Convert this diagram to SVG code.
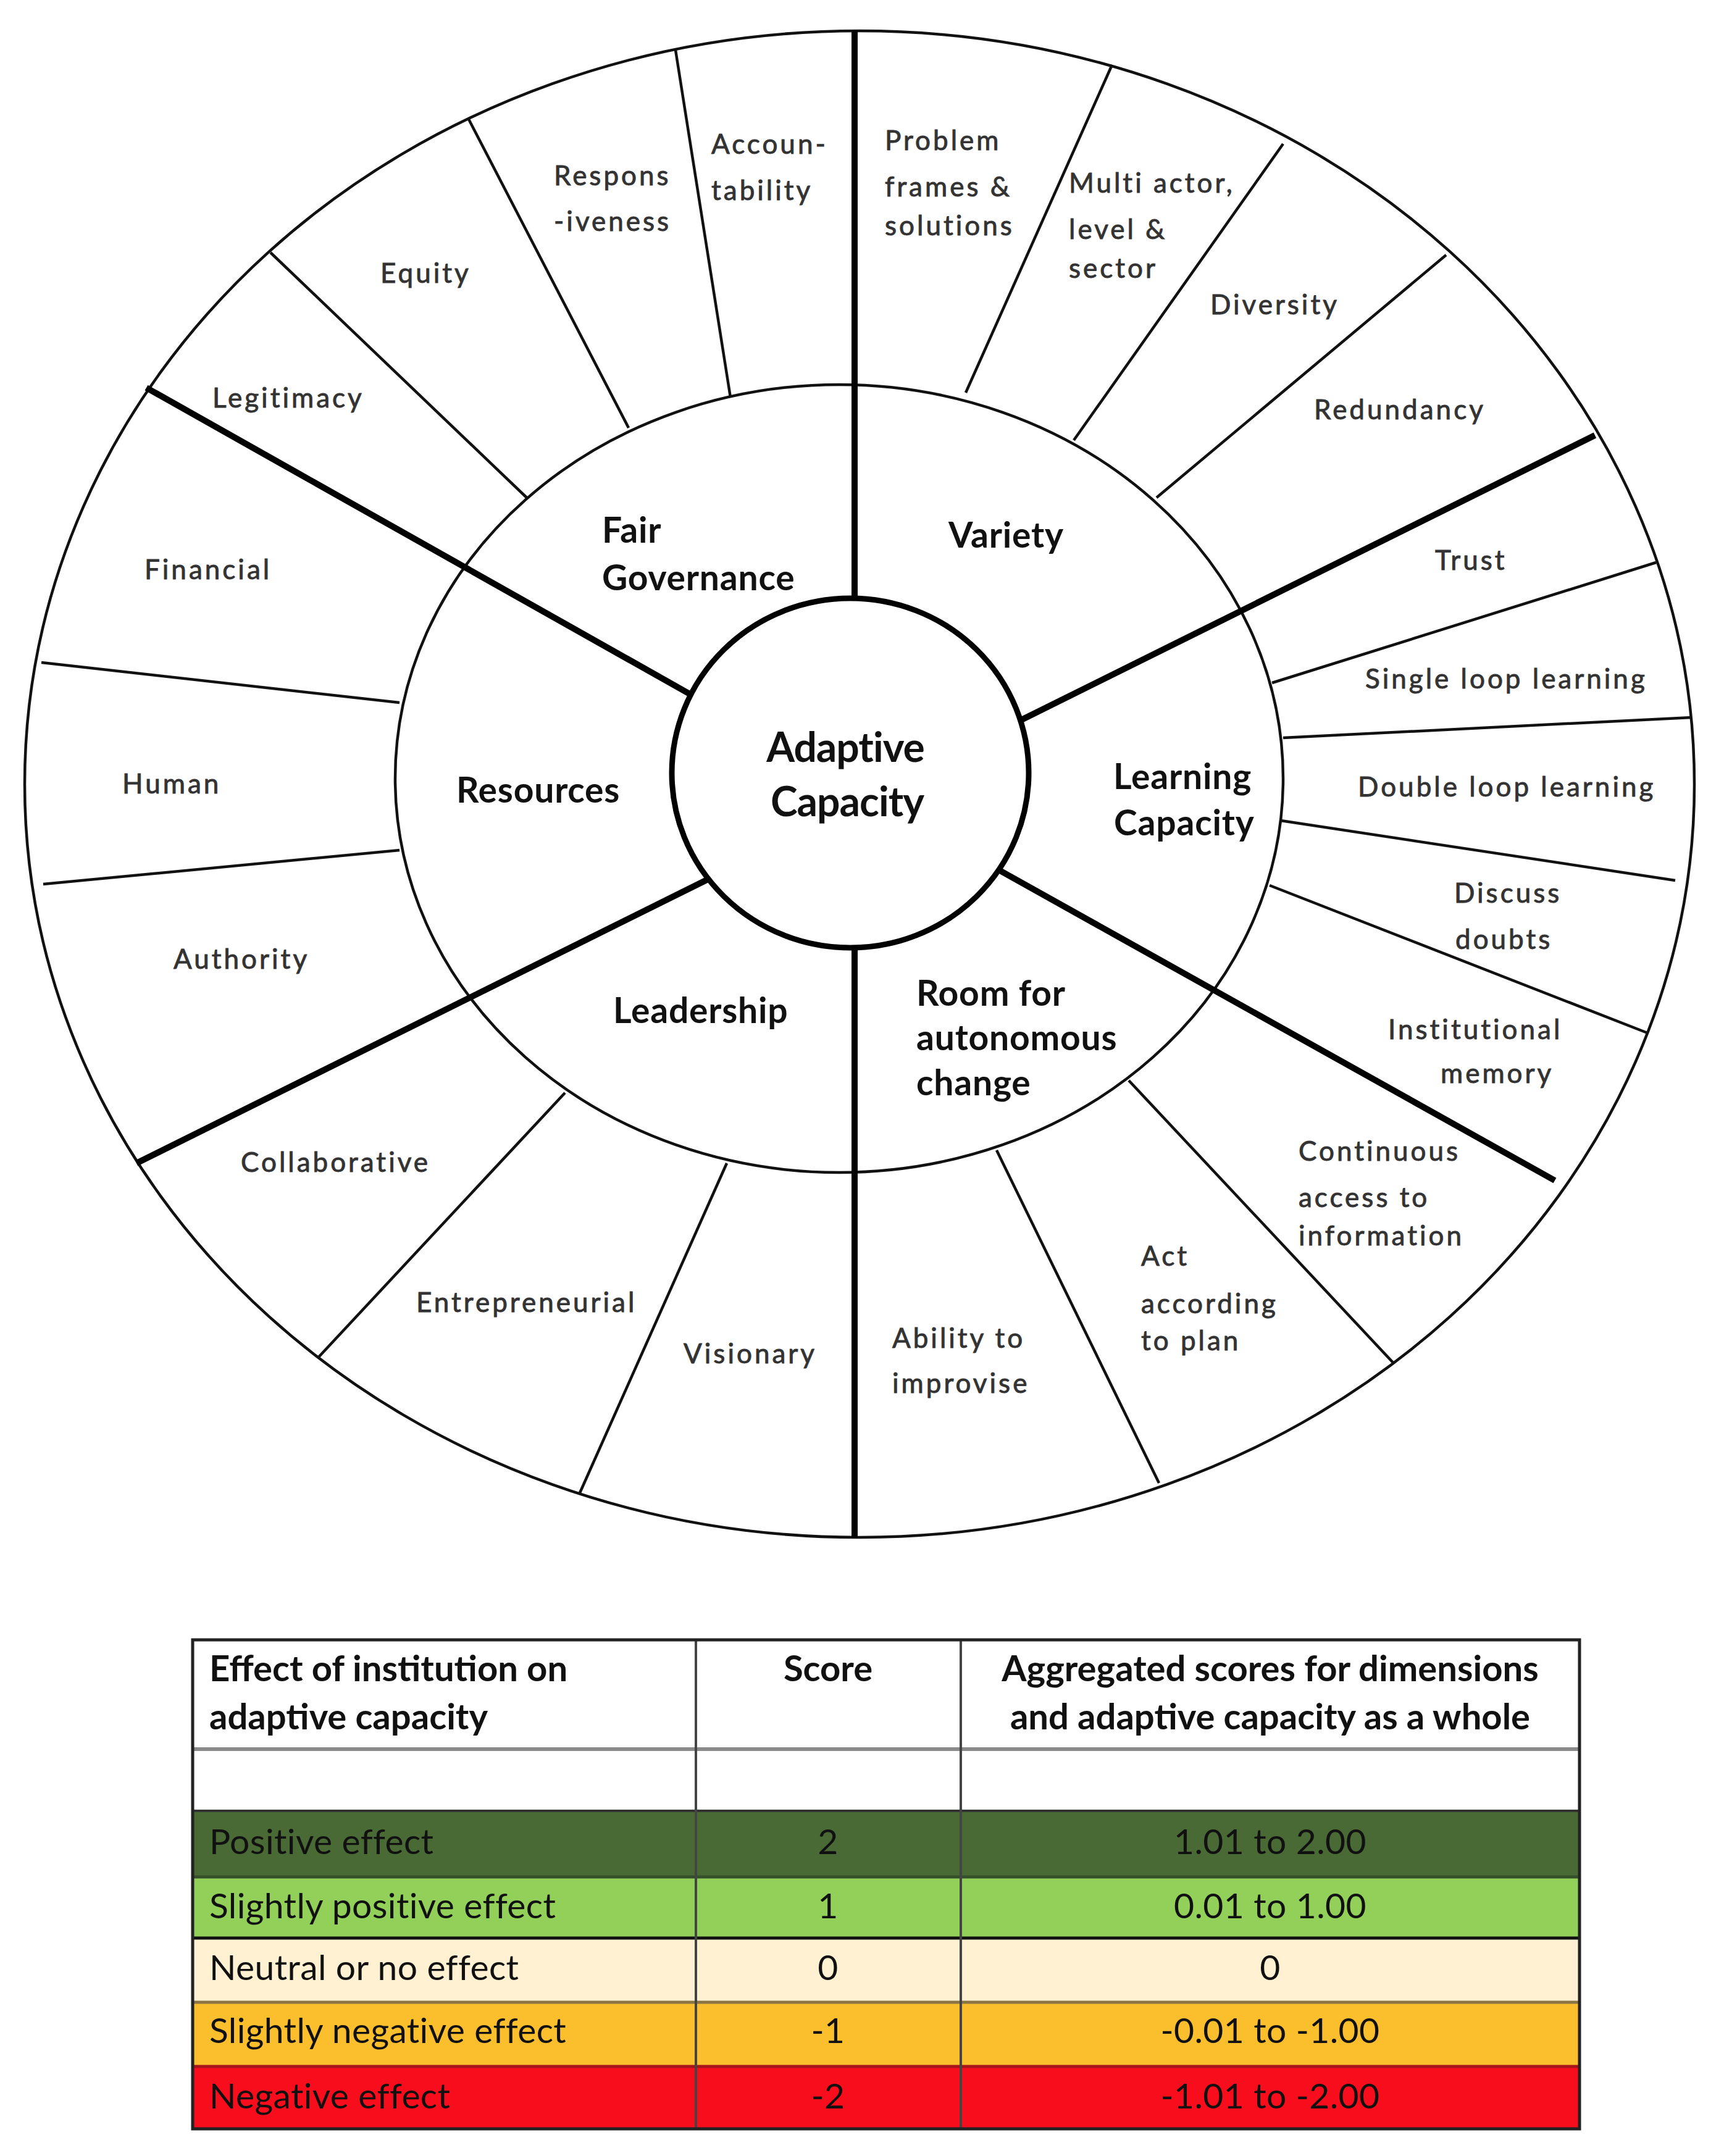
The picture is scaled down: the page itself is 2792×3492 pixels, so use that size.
<svg xmlns="http://www.w3.org/2000/svg" width="2792" height="3492" viewBox="0 0 2792 3492">
<style>
.sub{font-family:Lato,"Liberation Sans",sans-serif;font-size:44px;fill:#333;stroke:#333;stroke-width:0.9px;letter-spacing:4px}
.dim{font-family:Lato,"Liberation Sans",sans-serif;font-size:57px;font-weight:bold;fill:#111;letter-spacing:0.8px}
.core{font-family:Lato,"Liberation Sans",sans-serif;font-size:66px;font-weight:bold;fill:#111;text-anchor:middle;letter-spacing:-1px}
.thin{stroke:#111;stroke-width:4.5;fill:none}
.thick{stroke:#000;stroke-width:10;fill:none}
.th{font-family:Lato,"Liberation Sans",sans-serif;font-size:58px;font-weight:bold;fill:#111}
.td{font-family:Lato,"Liberation Sans",sans-serif;font-size:57px;fill:#111;letter-spacing:0.4px}
.mid{text-anchor:middle}
</style>
<rect width="2792" height="3492" fill="#fff"/>
<g id="connectors">
<ellipse cx="1392" cy="1270" rx="1352" ry="1220" class="thin"/>
<ellipse cx="1359" cy="1261" rx="719" ry="638" class="thin"/>
<line x1="1183" y1="644" x2="1094" y2="81" class="thin"/>
<line x1="1018" y1="693" x2="759" y2="193" class="thin"/>
<line x1="853" y1="806" x2="438" y2="409" class="thin"/>
<line x1="1564" y1="636" x2="1801" y2="105" class="thin"/>
<line x1="1739" y1="713" x2="2078" y2="233" class="thin"/>
<line x1="1873" y1="806" x2="2342" y2="413" class="thin"/>
<line x1="2060" y1="1106" x2="2682" y2="911" class="thin"/>
<line x1="2078" y1="1195" x2="2740" y2="1162" class="thin"/>
<line x1="2074" y1="1329" x2="2713" y2="1426" class="thin"/>
<line x1="2056" y1="1434" x2="2668" y2="1673" class="thin"/>
<line x1="1828" y1="1750" x2="2257" y2="2208" class="thin"/>
<line x1="1614" y1="1863" x2="1877" y2="2402" class="thin"/>
<line x1="1177" y1="1884" x2="939" y2="2418" class="thin"/>
<line x1="915" y1="1770" x2="516" y2="2198" class="thin"/>
<line x1="647" y1="1377" x2="70" y2="1432" class="thin"/>
<line x1="647" y1="1138" x2="67" y2="1073" class="thin"/>
<line x1="1384" y1="50" x2="1384" y2="1000" class="thick"/>
<line x1="1384" y1="1510" x2="1384" y2="2491" class="thick"/>
<line x1="237" y1="628" x2="1140" y2="1137" class="thick"/>
<line x1="2583" y1="705" x2="1640" y2="1173" class="thick"/>
<line x1="221" y1="1884" x2="1165" y2="1415" class="thick"/>
<line x1="1605" y1="1402" x2="2518" y2="1912" class="thick"/>
</g>
<g id="center">
<ellipse cx="1377" cy="1252" rx="289" ry="283" fill="#fff" stroke="#000" stroke-width="9"/>
<text class="core" x="1369" y="1234">Adaptive</text>
<text class="core" x="1372" y="1322">Capacity</text>
</g>
<g id="fair-governance">
<text class="dim" x="975" y="879">Fair</text>
<text class="dim" x="975" y="956">Governance</text>
</g>
<g id="accountability"><text class="sub" x="1152" y="249">Accoun-</text><text class="sub" x="1152" y="324">tability</text></g>
<g id="responsiveness"><text class="sub" x="897" y="300">Respons</text><text class="sub" x="897" y="374">-iveness</text></g>
<g id="equity"><text class="sub" x="616" y="458">Equity</text></g>
<g id="legitimacy"><text class="sub" x="344" y="660">Legitimacy</text></g>
<g id="variety"><text class="dim" x="1536" y="887">Variety</text></g>
<g id="problem-frames"><text class="sub" x="1433" y="243">Problem</text><text class="sub" x="1433" y="318">frames &amp;</text><text class="sub" x="1433" y="381">solutions</text></g>
<g id="multi-actor"><text class="sub" x="1731" y="312">Multi actor,</text><text class="sub" x="1731" y="387">level &amp;</text><text class="sub" x="1731" y="450">sector</text></g>
<g id="diversity"><text class="sub" x="1960" y="509">Diversity</text></g>
<g id="redundancy"><text class="sub" x="2128" y="679">Redundancy</text></g>
<g id="learning-capacity"><text class="dim" x="1803" y="1278">Learning</text><text class="dim" x="1804" y="1353">Capacity</text></g>
<g id="trust"><text class="sub" x="2324" y="923">Trust</text></g>
<g id="single-loop"><text class="sub" x="2211" y="1115">Single loop learning</text></g>
<g id="double-loop"><text class="sub" x="2199" y="1290">Double loop learning</text></g>
<g id="discuss-doubts"><text class="sub" x="2355" y="1462">Discuss</text><text class="sub" x="2357" y="1537">doubts</text></g>
<g id="institutional-memory"><text class="sub" x="2248" y="1683">Institutional</text><text class="sub" x="2333" y="1754">memory</text></g>
<g id="room-for-change"><text class="dim" x="1484" y="1629">Room for</text><text class="dim" x="1484" y="1701">autonomous</text><text class="dim" x="1484" y="1774">change</text></g>
<g id="continuous-access"><text class="sub" x="2103" y="1880">Continuous</text><text class="sub" x="2103" y="1955">access to</text><text class="sub" x="2103" y="2017">information</text></g>
<g id="act-plan"><text class="sub" x="1848" y="2050">Act</text><text class="sub" x="1848" y="2127">according</text><text class="sub" x="1848" y="2187">to plan</text></g>
<g id="improvise"><text class="sub" x="1445" y="2183">Ability to</text><text class="sub" x="1445" y="2256">improvise</text></g>
<g id="leadership"><text class="dim" x="993" y="1657">Leadership</text></g>
<g id="collaborative"><text class="sub" x="390" y="1898">Collaborative</text></g>
<g id="entrepreneurial"><text class="sub" x="674" y="2125">Entrepreneurial</text></g>
<g id="visionary"><text class="sub" x="1107" y="2208">Visionary</text></g>
<g id="resources"><text class="dim" x="739" y="1300">Resources</text></g>
<g id="financial"><text class="sub" x="234" y="938">Financial</text></g>
<g id="human"><text class="sub" x="198" y="1285">Human</text></g>
<g id="authority"><text class="sub" x="281" y="1569">Authority</text></g>
<g id="legend-table">
<rect x="312" y="2656" width="2246" height="792" fill="#fff"/>
<rect x="312" y="2933" width="2246" height="107" fill="#4a6a35"/>
<rect x="312" y="3040" width="2246" height="99" fill="#92d05a"/>
<rect x="312" y="3139" width="2246" height="104" fill="#fff1d2"/>
<rect x="312" y="3243" width="2246" height="104" fill="#fbbf2d"/>
<rect x="312" y="3347" width="2246" height="101" fill="#f80d1d"/>
<line x1="312" y1="2833" x2="2558" y2="2833" stroke="#8a8a8a" stroke-width="6"/>
<line x1="312" y1="2933" x2="2558" y2="2933" stroke="#333" stroke-width="4"/>
<line x1="312" y1="3040" x2="2558" y2="3040" stroke="#34502a" stroke-width="5"/>
<line x1="312" y1="3139" x2="2558" y2="3139" stroke="#111" stroke-width="5"/>
<line x1="312" y1="3243" x2="2558" y2="3243" stroke="#8a7444" stroke-width="5"/>
<line x1="312" y1="3347" x2="2558" y2="3347" stroke="#a51418" stroke-width="5"/>
<line x1="1127" y1="2656" x2="1127" y2="3448" stroke="#444" stroke-width="4"/>
<line x1="1556" y1="2656" x2="1556" y2="3448" stroke="#444" stroke-width="4"/>
<rect x="312" y="2656" width="2246" height="792" fill="none" stroke="#222" stroke-width="5"/>
<text class="th" x="339" y="2723">Effect of institution on</text>
<text class="th" x="339" y="2801">adaptive capacity</text>
<text class="th mid" x="1341" y="2723">Score</text>
<text class="th mid" x="2057" y="2723">Aggregated scores for dimensions</text>
<text class="th mid" x="2057" y="2801">and adaptive capacity as a whole</text>
<text class="td" x="339" y="3003">Positive effect</text>
<text class="td mid" x="1341" y="3003">2</text>
<text class="td mid" x="2057" y="3003">1.01 to 2.00</text>
<text class="td" x="339" y="3107">Slightly positive effect</text>
<text class="td mid" x="1341" y="3107">1</text>
<text class="td mid" x="2057" y="3107">0.01 to 1.00</text>
<text class="td" x="339" y="3207">Neutral or no effect</text>
<text class="td mid" x="1341" y="3207">0</text>
<text class="td mid" x="2057" y="3207">0</text>
<text class="td" x="339" y="3309">Slightly negative effect</text>
<text class="td mid" x="1341" y="3309">-1</text>
<text class="td mid" x="2057" y="3309">-0.01 to -1.00</text>
<text class="td" x="339" y="3415">Negative effect</text>
<text class="td mid" x="1341" y="3415">-2</text>
<text class="td mid" x="2057" y="3415">-1.01 to -2.00</text>
</g>
</svg>
